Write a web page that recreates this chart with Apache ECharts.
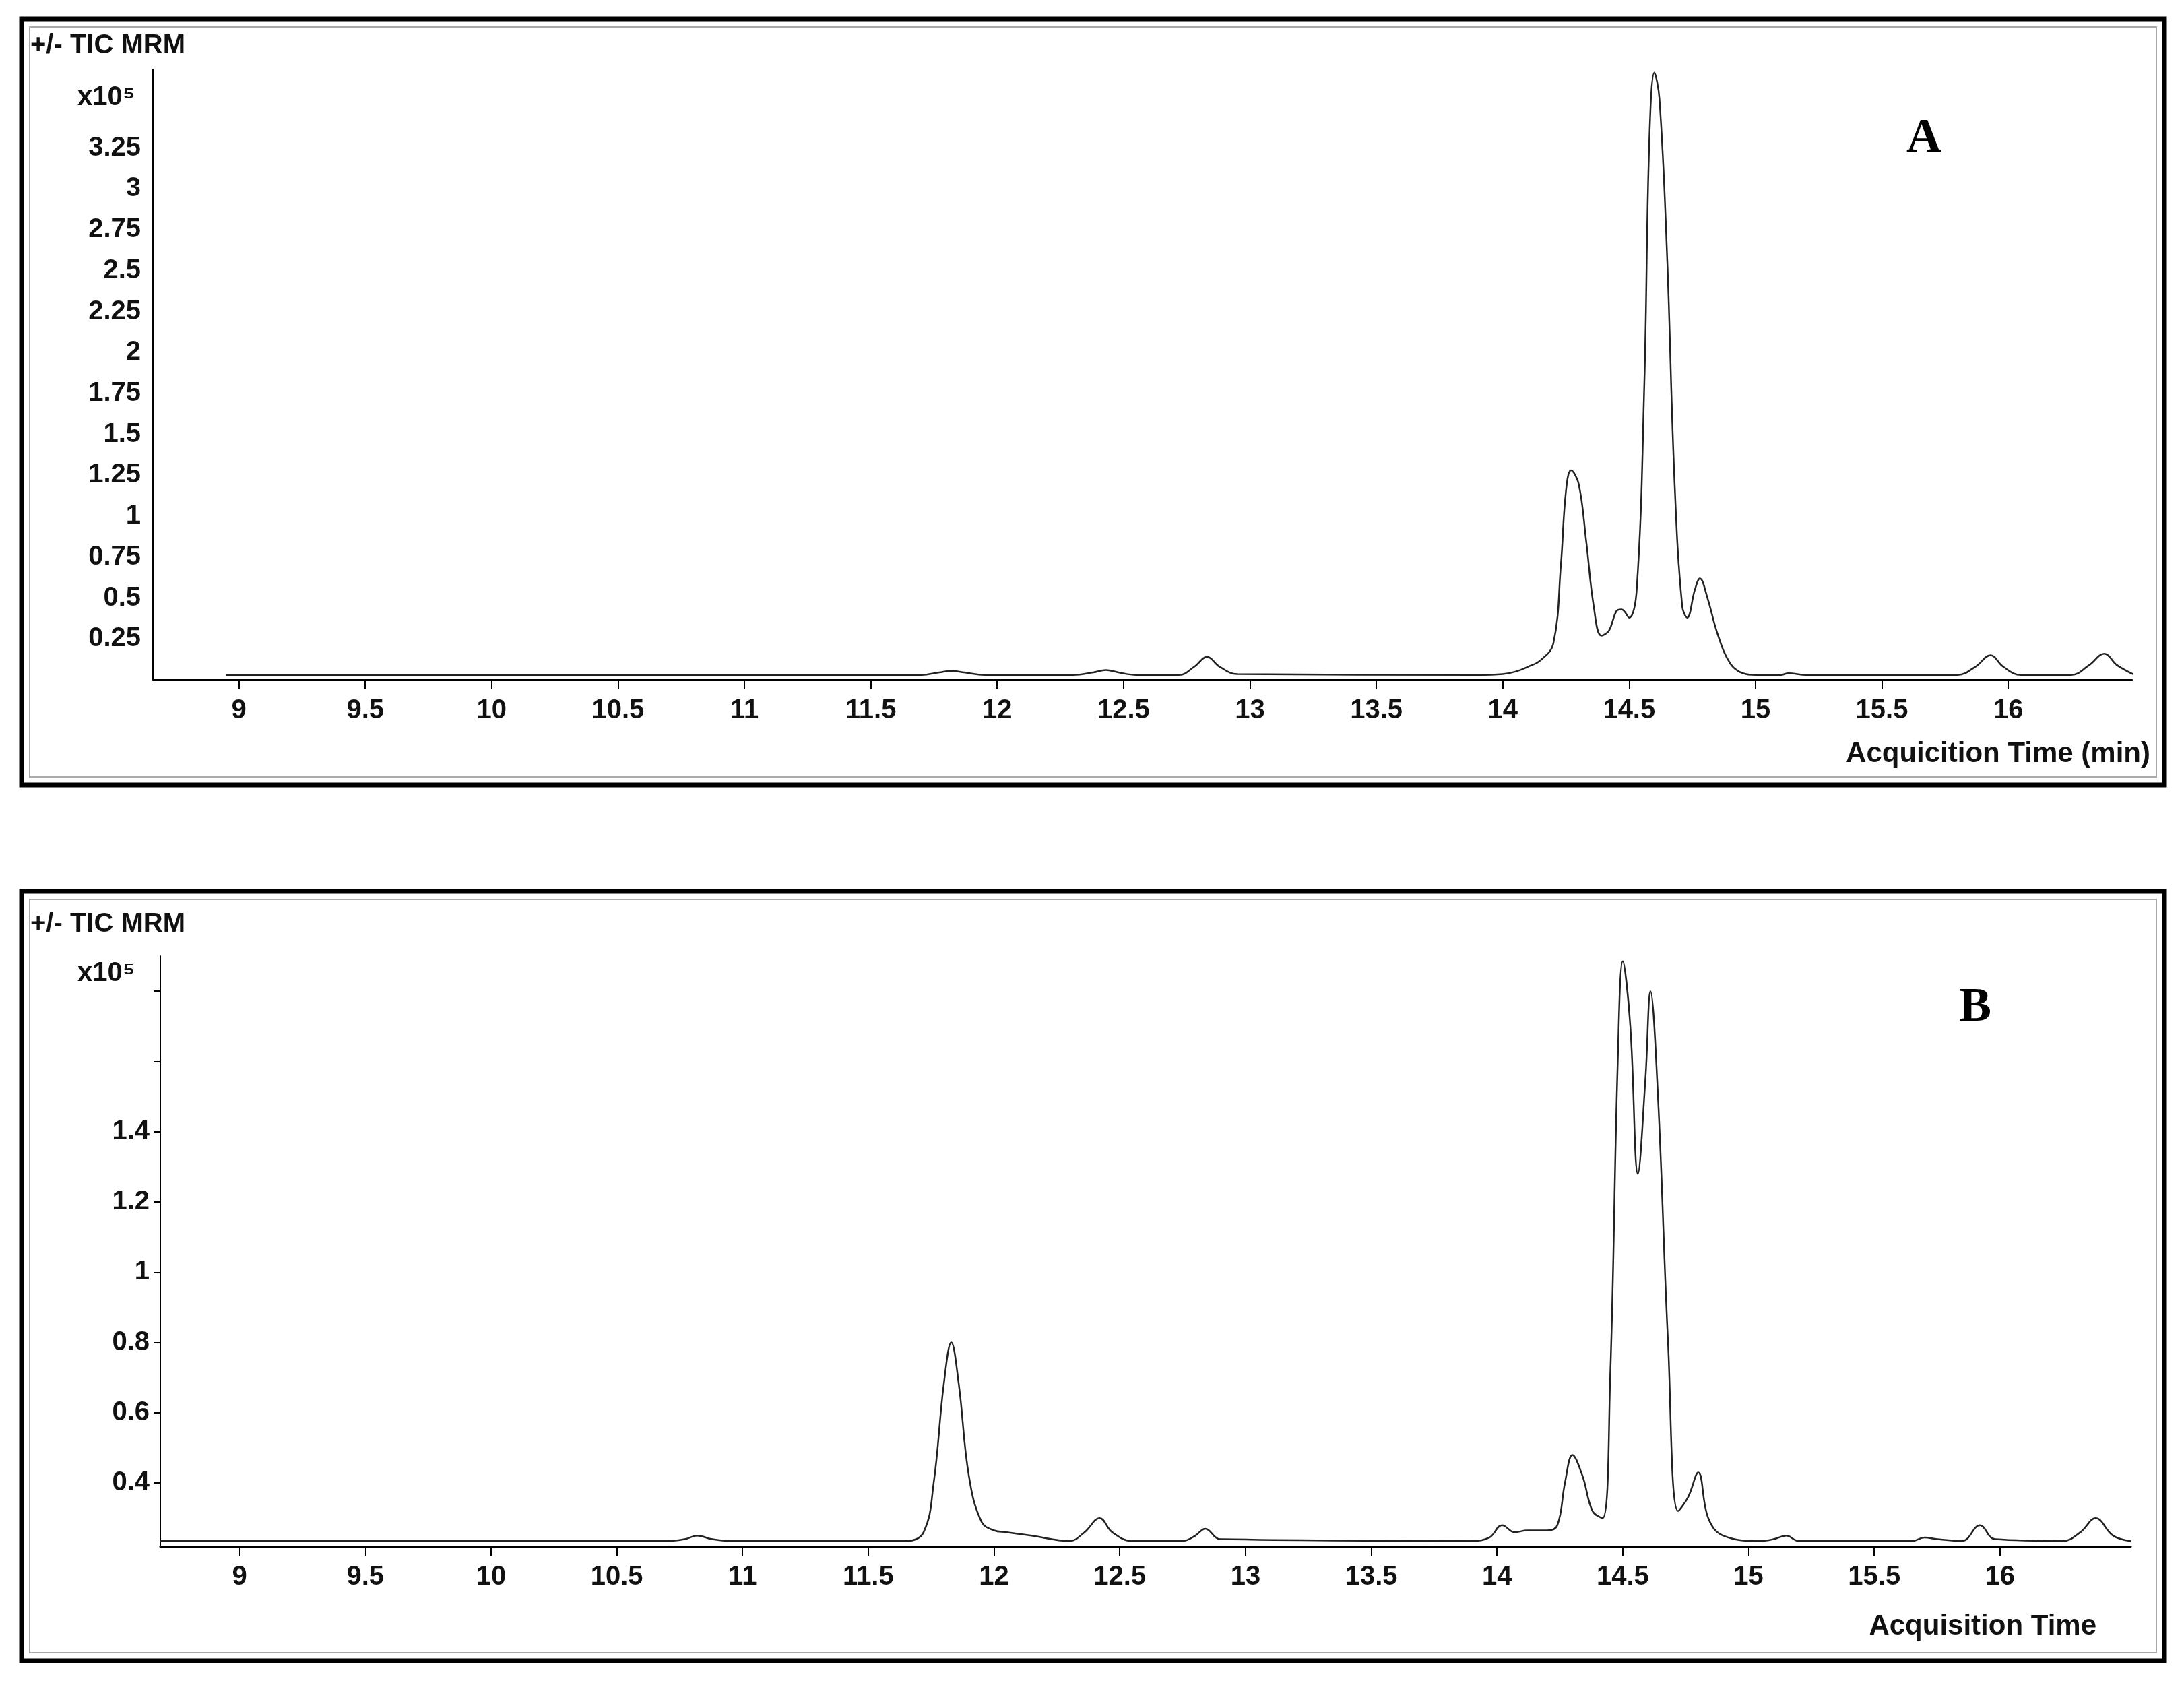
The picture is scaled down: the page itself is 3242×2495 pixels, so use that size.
<!DOCTYPE html>
<html><head><meta charset="utf-8">
<script src="https://cdn.jsdelivr.net/npm/echarts@6/dist/echarts.min.js"></script>
<style>html,body{margin:0;padding:0;background:#fff}#c{width:3242px;height:2495px}</style>
</head><body><div id="c"></div>
<script>
const timeA = [8.95,10.5,11.7,11.77,11.82,11.87,11.95,12.3,12.38,12.43,12.48,12.55,12.72,12.78,12.83,12.88,12.95,13.9,14.0,14.05,14.1,14.15,14.2,14.23,14.25,14.27,14.3,14.33,14.36,14.39,14.42,14.45,14.47,14.5,14.53,14.56,14.58,14.6,14.62,14.65,14.68,14.71,14.73,14.76,14.78,14.81,14.85,14.9,14.95,15.0,15.1,15.13,15.2,15.8,15.87,15.93,15.98,16.05,16.25,16.32,16.38,16.43,16.5];
const valueA = [0.03,0.03,0.03,0.045,0.055,0.045,0.03,0.03,0.045,0.06,0.045,0.03,0.03,0.08,0.14,0.08,0.035,0.03,0.035,0.05,0.08,0.12,0.22,0.7,1.15,1.28,1.2,0.85,0.45,0.27,0.3,0.42,0.43,0.38,0.55,1.8,3.3,3.71,3.55,2.6,1.2,0.45,0.38,0.55,0.62,0.5,0.28,0.1,0.04,0.03,0.03,0.04,0.03,0.03,0.08,0.15,0.08,0.03,0.03,0.09,0.16,0.09,0.03];
const timeB = [8.685,10.7,10.77,10.82,10.88,10.95,11.65,11.72,11.76,11.8,11.83,11.86,11.9,11.95,12.0,12.05,12.15,12.3,12.36,12.42,12.47,12.55,12.75,12.8,12.84,12.9,13.9,13.97,14.02,14.07,14.12,14.2,14.24,14.27,14.3,14.34,14.38,14.42,14.45,14.48,14.5,14.53,14.56,14.59,14.61,14.64,14.68,14.72,14.76,14.8,14.84,14.9,15.05,15.1,15.15,15.2,15.65,15.7,15.75,15.85,15.92,15.98,16.25,16.32,16.38,16.45,16.52];
const valueB = [0.235,0.235,0.24,0.25,0.24,0.235,0.235,0.26,0.4,0.68,0.8,0.68,0.42,0.29,0.265,0.26,0.25,0.235,0.26,0.30,0.26,0.235,0.235,0.25,0.27,0.24,0.235,0.245,0.28,0.26,0.265,0.265,0.28,0.4,0.48,0.42,0.32,0.3,0.7,1.6,1.885,1.7,1.28,1.55,1.80,1.5,0.8,0.32,0.36,0.43,0.3,0.25,0.235,0.24,0.25,0.235,0.235,0.245,0.24,0.235,0.28,0.24,0.235,0.26,0.30,0.25,0.235];
const xTicks = [9,9.5,10,10.5,11,11.5,12,12.5,13,13.5,14,14.5,15,15.5,16];
const yTicksA = [0.25,0.5,0.75,1,1.25,1.5,1.75,2,2.25,2.5,2.75,3,3.25];
const yLabelsB = [0.4,0.6,0.8,1,1.2,1.4];
const yTicksB = [0.4,0.6,0.8,1,1.2,1.4,1.6,1.8];

const F = "'Liberation Sans Narrow','Arial Narrow','Liberation Sans',sans-serif";
const lbl = {fontFamily:F,fontWeight:'bold',fontSize:40,color:'#111'};
function xAxis(gi,min,max){return {type:'value',gridIndex:gi,min,max,
  axisLine:{lineStyle:{color:'#000',width:3}},splitLine:{show:false},
  axisTick:{customValues:xTicks,length:14,inside:false,lineStyle:{color:'#000',width:2}},
  axisLabel:Object.assign({customValues:xTicks,margin:26},lbl)};}
const chart = echarts.init(document.getElementById('c'));
chart.setOption({
  animation:false,
  grid:[{left:227,top:103,width:2938,height:906},{left:238,top:1419,width:2925,height:876}],
  xAxis:[xAxis(0,8.66,16.49),xAxis(1,8.685,16.52)],
  yAxis:[
    {type:'value',gridIndex:0,min:0,max:3.73,splitLine:{show:false},
     axisLine:{show:true,lineStyle:{color:'#000',width:2}},
     axisTick:{show:false},axisLabel:Object.assign({customValues:yTicksA,margin:18},lbl)},
    {type:'value',gridIndex:1,min:0.22,max:1.9,splitLine:{show:false},
     axisLine:{show:true,lineStyle:{color:'#000',width:2}},
     axisTick:{show:true,customValues:yTicksB,length:10,lineStyle:{color:'#000',width:2}},
     axisLabel:Object.assign({customValues:yLabelsB,margin:16},lbl)}
  ],
  series:[
    {type:'line',xAxisIndex:0,yAxisIndex:0,data:timeA.map((t,i)=>[t,valueA[i]]),smooth:0.4,showSymbol:false,lineStyle:{color:'#222',width:2.5}},
    {type:'line',xAxisIndex:1,yAxisIndex:1,data:timeB.map((t,i)=>[t,valueB[i]]),smooth:0.4,showSymbol:false,lineStyle:{color:'#222',width:2.5}}
  ],
  graphic:[
    {type:'rect',shape:{x:32,y:28,width:3181,height:1137},style:{fill:null,stroke:'#000',lineWidth:7}},
    {type:'rect',shape:{x:44,y:40,width:3157,height:1113},style:{fill:null,stroke:'#aaa',lineWidth:2}},
    {type:'rect',shape:{x:32,y:1323,width:3181,height:1142},style:{fill:null,stroke:'#000',lineWidth:7}},
    {type:'rect',shape:{x:44,y:1335,width:3157,height:1118},style:{fill:null,stroke:'#aaa',lineWidth:2}},
    {type:'text',left:45,top:48,style:{text:'+/- TIC MRM',font:"bold 40px "+F,fill:'#111'}},
    {type:'text',left:115,top:125,style:{text:'x10⁵',font:"bold 40px "+F,fill:'#111'}},
    {type:'text',left:2830,top:170,style:{text:'A',font:"bold 72px 'Liberation Serif',serif",fill:'#000'}},
    {type:'text',right:50,top:1098,style:{text:'Acquicition Time (min)',font:"bold 42px "+F,fill:'#111'}},
    {type:'text',left:45,top:1352,style:{text:'+/- TIC MRM',font:"bold 40px "+F,fill:'#111'}},
    {type:'text',left:115,top:1425,style:{text:'x10⁵',font:"bold 40px "+F,fill:'#111'}},
    {type:'text',left:2908,top:1460,style:{text:'B',font:"bold 72px 'Liberation Serif',serif",fill:'#000'}},
    {type:'text',right:130,top:2393,style:{text:'Acquisition Time',font:"bold 42px "+F,fill:'#111'}}
  ]
});
</script></body></html>
